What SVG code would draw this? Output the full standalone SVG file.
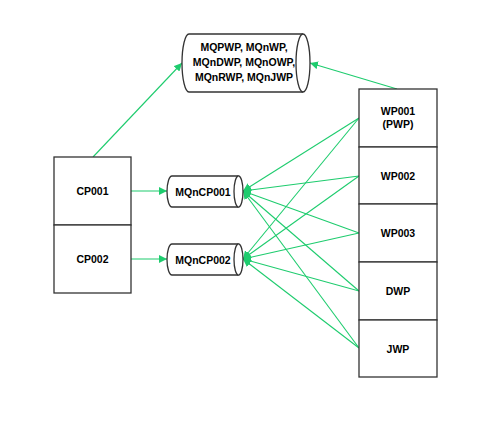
<svg xmlns="http://www.w3.org/2000/svg" width="500" height="435" viewBox="0 0 500 435">
<style>
.box{fill:#fff;stroke:#333;stroke-width:1.3}
.t{font-family:"Liberation Sans",Arial,sans-serif;font-size:10.5px;font-weight:bold;fill:#000;text-anchor:middle;dominant-baseline:central}
.c{fill:none;stroke:#1ECC6E;stroke-width:1.1}
</style>
<defs>
<marker id="a" viewBox="0 0 10 10" refX="10" refY="5" markerWidth="8" markerHeight="8" markerUnits="userSpaceOnUse" orient="auto">
<path d="M0,0 L10,5 L0,10 Z" fill="#1ECC6E"/>
</marker>
</defs>
<rect width="500" height="435" fill="#fff"/>
<g id="connectors">
<path class="c" d="M93,157 L182,63" marker-end="url(#a)"/>
<path class="c" d="M397,89 L310,63" marker-end="url(#a)"/>
<path class="c" d="M131,191 L167,191" marker-end="url(#a)"/>
<path class="c" d="M131,259 L167,259" marker-end="url(#a)"/>
<path class="c" d="M359,118 L243,191" marker-end="url(#a)"/>
<path class="c" d="M359,176 L243,191" marker-end="url(#a)"/>
<path class="c" d="M359,233 L243,191" marker-end="url(#a)"/>
<path class="c" d="M359,291 L243,191" marker-end="url(#a)"/>
<path class="c" d="M359,348 L243,191" marker-end="url(#a)"/>
<path class="c" d="M359,118 L243,259" marker-end="url(#a)"/>
<path class="c" d="M359,176 L243,259" marker-end="url(#a)"/>
<path class="c" d="M359,233 L243,259" marker-end="url(#a)"/>
<path class="c" d="M359,291 L243,259" marker-end="url(#a)"/>
<path class="c" d="M359,348 L243,259" marker-end="url(#a)"/>
</g>
<g id="mqall">
<path class="box" d="M189,34 L303,34 A7,29 0 0 1 303,92 L189,92 A7,29 0 0 1 189,34 Z"/>
<path class="box" d="M303,34 A7,29 0 0 0 303,92"/>
<text class="t" x="244" y="47">MQPWP, MQnWP,</text>
<text class="t" x="244" y="62">MQnDWP, MQnOWP,</text>
<text class="t" x="244" y="77">MQnRWP, MQnJWP</text>
</g>
<g id="cp001">
<rect class="box" x="54" y="157" width="77" height="68"/>
<text class="t" x="92.5" y="191">CP001</text>
</g>
<g id="cp002">
<rect class="box" x="54" y="225" width="77" height="68"/>
<text class="t" x="92.5" y="259">CP002</text>
</g>
<g id="mqncp001">
<path class="box" d="M172,176 L238.5,176 A4.5,15.5 0 0 1 238.5,207 L172,207 A5,15.5 0 0 1 172,176 Z"/>
<path class="box" d="M238.5,176 A4.5,15.5 0 0 0 238.5,207"/>
<text class="t" x="203" y="191.5">MQnCP001</text>
</g>
<g id="mqncp002">
<path class="box" d="M172,244 L238.5,244 A4.5,15.5 0 0 1 238.5,275 L172,275 A5,15.5 0 0 1 172,244 Z"/>
<path class="box" d="M238.5,244 A4.5,15.5 0 0 0 238.5,275"/>
<text class="t" x="203" y="259.5">MQnCP002</text>
</g>
<g id="wp001">
<rect class="box" x="359" y="89" width="78" height="58"/>
<text class="t" x="398" y="111">WP001</text>
<text class="t" x="398" y="124">(PWP)</text>
</g>
<g id="wp002">
<rect class="box" x="359" y="147" width="78" height="57"/>
<text class="t" x="398" y="175.5">WP002</text>
</g>
<g id="wp003">
<rect class="box" x="359" y="204" width="78" height="58"/>
<text class="t" x="398" y="233">WP003</text>
</g>
<g id="dwp">
<rect class="box" x="359" y="262" width="78" height="58"/>
<text class="t" x="398" y="291">DWP</text>
</g>
<g id="jwp">
<rect class="box" x="359" y="320" width="78" height="57"/>
<text class="t" x="398" y="348.5">JWP</text>
</g>
</svg>
